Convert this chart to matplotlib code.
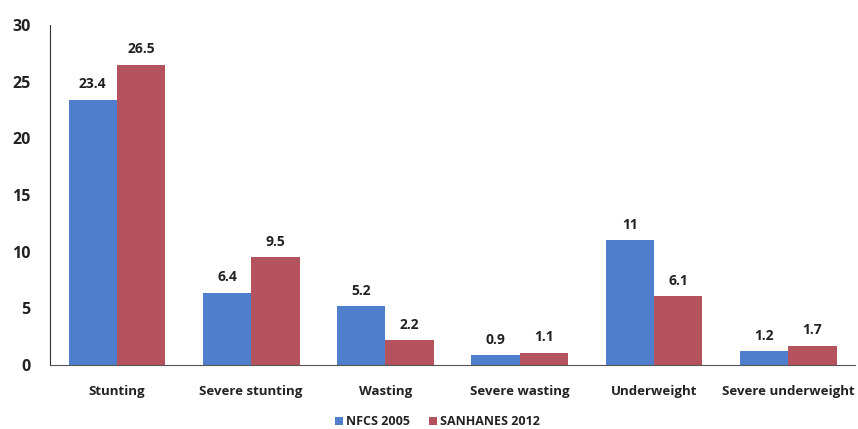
import matplotlib.pyplot as plt
import numpy as np

plt.rcParams['font.family'] = ['Open Sans', 'DejaVu Sans']

categories = ['Stunting', 'Severe stunting', 'Wasting', 'Severe wasting',
              'Underweight', 'Severe underweight']
nfcs_2005 = [23.4, 6.4, 5.2, 0.9, 11, 1.2]
sanhanes_2012 = [26.5, 9.5, 2.2, 1.1, 6.1, 1.7]
value_labels_nfcs = ['23.4', '6.4', '5.2', '0.9', '11', '1.2']
value_labels_sanhanes = ['26.5', '9.5', '2.2', '1.1', '6.1', '1.7']

fig = plt.figure(figsize=(8.58, 4.29), dpi=100)
ax = fig.add_axes([0.058, 0.149, 0.939, 0.793])

x = np.arange(len(categories))
w = 0.36
b1 = ax.bar(x - w / 2, nfcs_2005, w, color='#4f7fcc', label='NFCS 2005')
b2 = ax.bar(x + w / 2, sanhanes_2012, w, color='#b4525e', label='SANHANES 2012')

ax.bar_label(b1, labels=value_labels_nfcs, padding=6, fontsize=10,
             fontweight='bold', color='#222222')
ax.bar_label(b2, labels=value_labels_sanhanes, padding=6, fontsize=10,
             fontweight='bold', color='#222222')

ax.set_xlim(-0.5, len(categories) - 0.5)
ax.set_ylim(0, 30)
ax.set_yticks(range(0, 31, 5))
ax.set_xticks(x)
ax.set_xticklabels(categories, fontsize=9.5, fontweight='bold', color='#222222')
ax.tick_params(axis='y', labelsize=11.5, length=0, pad=14, labelcolor='#222222')
ax.tick_params(axis='x', length=0, pad=14)
for lab in ax.get_yticklabels():
    lab.set_fontweight('bold')

for s in ['top', 'right']:
    ax.spines[s].set_visible(False)
ax.spines['left'].set_color('#333333')
ax.spines['bottom'].set_color('#555555')

fig.legend(loc='lower center', bbox_to_anchor=(0.51, -0.025), ncol=2,
           frameon=False, prop={'weight': 'bold', 'size': 9},
           handlelength=0.6, handleheight=0.6, handletextpad=0.3,
           columnspacing=1.5, labelcolor='#222222')

fig.savefig('out.png', dpi=100)
